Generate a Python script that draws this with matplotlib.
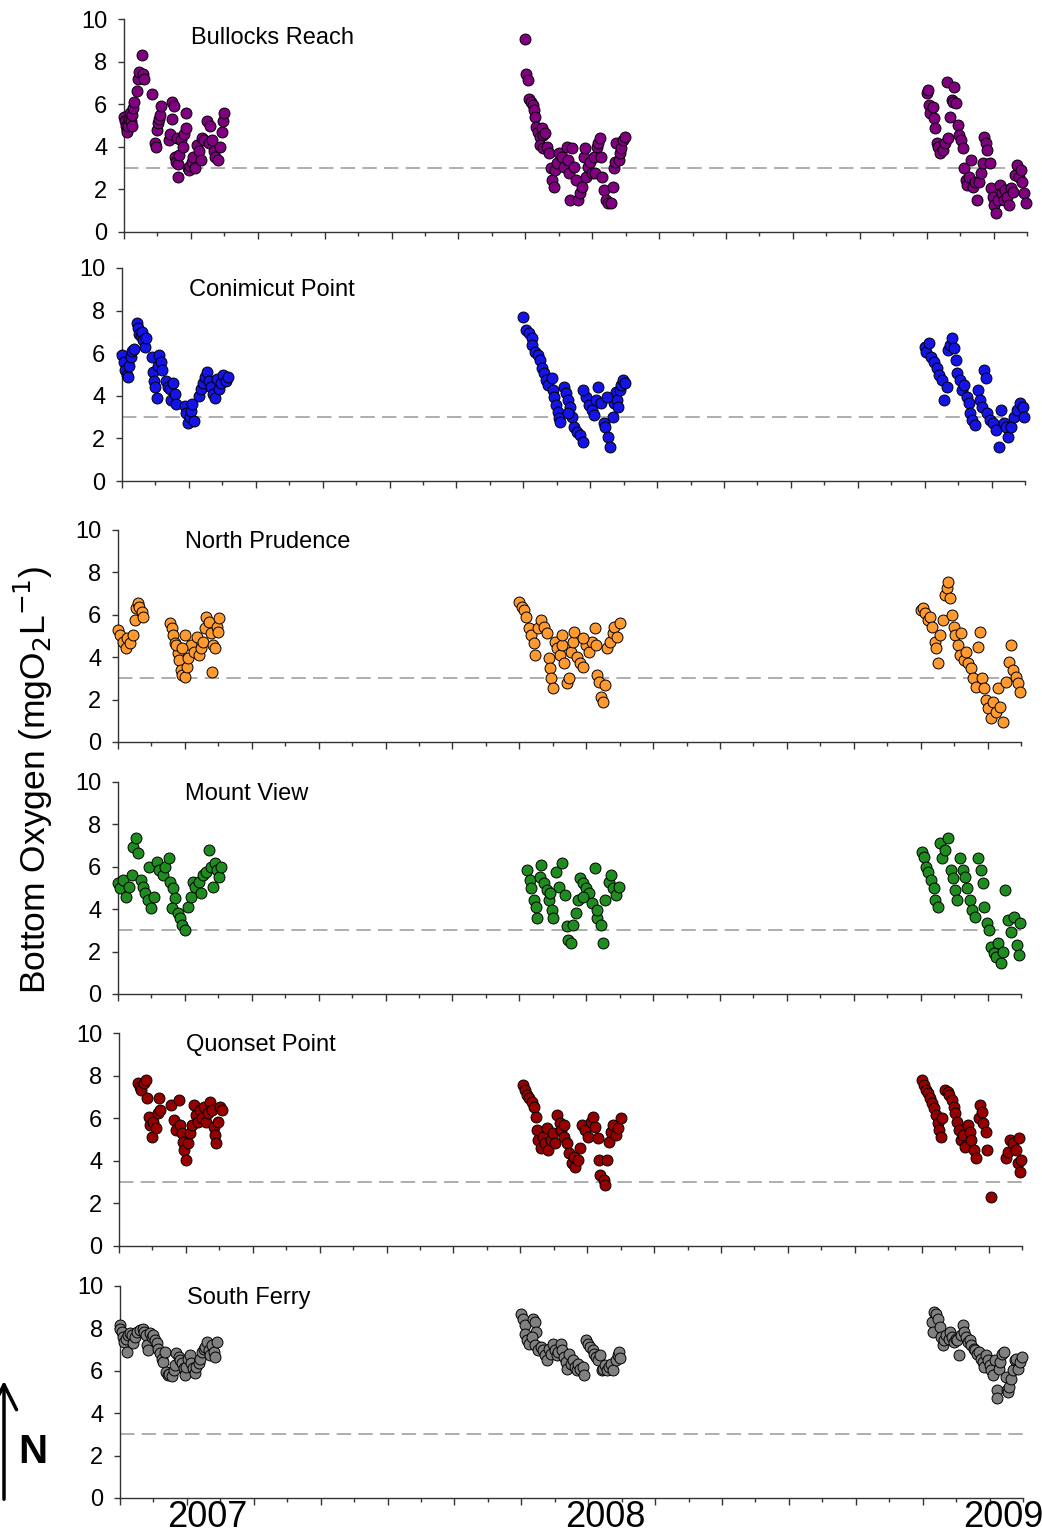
import numpy as np
import matplotlib
matplotlib.use("Agg")
import matplotlib.pyplot as plt
import matplotlib.transforms as mtransforms

plt.rcParams['font.family'] = ['Liberation Sans', 'DejaVu Sans']

# x = months since June 2007 (0 = start of 2007 season), y = bottom oxygen (mg/L)
stations = ['Bullocks Reach', 'Conimicut Point', 'North Prudence',
            'Mount View', 'Quonset Point', 'South Ferry']
colors = ['#800080', '#1414e6', '#ff9a30', '#1e8c1e', '#960000', '#808080']
years = ['2007', '2008', '2009']
year_pos = [2.6, 14.5, 26.4]
hypoxia_level = 3

br_x = [0.00, 0.03, 0.05, 0.08, 0.10, 0.13, 0.15, 0.18, 0.20, 0.23, 0.25, 0.28, 0.30, 0.38, 0.42,
        0.46, 0.53, 0.57, 0.61, 0.85, 0.92, 0.96, 1.00, 1.03, 1.06, 1.09, 1.12, 1.35, 1.38, 1.43,
        1.45, 1.50, 1.51, 1.55, 1.58, 1.61, 1.62, 1.65, 1.70, 1.75, 1.80, 1.84, 1.86, 1.90, 1.95,
        1.98, 2.02, 2.06, 2.13, 2.19, 2.25, 2.31, 2.33, 2.40, 2.48, 2.55, 2.58, 2.63, 2.68, 2.73,
        2.80, 2.88, 2.93, 2.96, 3.00,
        12.00, 12.03, 12.09, 12.11, 12.18, 12.23, 12.26, 12.29, 12.32, 12.37, 12.43, 12.49, 12.54,
        12.60, 12.43, 12.54, 12.66, 12.71, 12.77, 12.79, 12.86, 12.88, 12.94, 13.02, 13.11, 13.17,
        13.25, 13.28, 13.31, 13.34, 13.39, 13.45, 13.51, 13.57, 13.62, 13.68, 13.74, 13.77, 13.81,
        13.88, 13.93, 13.99, 14.04, 14.08, 14.13, 14.16, 14.22, 14.27, 14.30, 14.36, 14.41, 14.47,
        14.56, 14.61, 14.65, 14.67, 14.72, 14.79, 14.83, 14.87, 14.92, 14.98,
        24.00, 24.03, 24.07, 24.11, 24.18, 24.22, 24.26, 24.30, 24.34, 24.41, 24.49, 24.55, 24.61,
        24.64, 24.69, 24.75, 24.80, 24.83, 24.89, 24.94, 24.98, 25.02, 25.09, 25.13, 25.18, 25.22,
        25.28, 25.33, 25.39, 25.45, 25.50, 25.56, 25.62, 25.67, 25.70, 25.77, 25.81, 25.88, 25.92,
        25.97, 26.01, 26.07, 26.12, 26.18, 26.24, 26.30, 26.35, 26.41, 26.46, 26.52, 26.58, 26.63,
        26.69, 26.75, 26.81, 26.86, 26.92, 26.97]
br_y = [5.4, 5.2, 5.0, 4.8, 4.7, 5.0, 5.3, 5.6, 5.2, 5.0, 5.5, 5.8, 6.1, 6.6, 7.2,
        7.5, 8.3, 7.4, 7.2, 6.5, 4.2, 4.0, 4.8, 5.1, 5.3, 5.5, 5.9, 4.3, 4.6, 5.3,
        6.1, 5.9, 3.5, 3.3, 4.4, 2.6, 3.2, 3.6, 4.3, 4.0, 4.6, 4.9, 5.6, 3.0, 2.9,
        3.1, 3.3, 3.5, 3.0, 4.1, 3.8, 3.4, 4.4, 4.3, 5.2, 4.2, 5.0, 4.3, 3.8, 3.5,
        3.4, 4.0, 4.7, 5.2, 5.6,
        9.06, 7.42, 7.13, 6.23, 6.12, 5.96, 5.73, 5.41, 4.94, 4.71, 4.47, 4.87, 4.55,
        4.63, 4.08, 3.93, 4.00, 3.69, 2.99, 2.44, 2.13, 2.91, 3.22, 3.69, 3.53, 3.07,
        4.00, 3.38, 2.75, 1.50, 3.93, 3.07, 2.44, 1.50, 1.81, 2.13, 3.53, 3.93, 2.60,
        3.07, 3.30, 2.75, 3.53, 2.75, 4.00, 4.16, 4.40, 3.53, 2.60, 1.97, 1.50, 1.34,
        1.34, 2.13, 2.99, 3.30, 4.16, 3.38, 3.69, 3.93, 4.32, 4.47,
        6.51, 6.66, 5.96, 5.57, 5.88, 5.33, 4.87, 4.16, 4.00, 3.69, 3.85, 4.16, 7.06,
        4.40, 5.41, 6.20, 6.12, 6.79, 6.04, 5.02, 4.55, 4.32, 3.93, 2.99, 2.44, 2.21,
        2.60, 3.38, 2.13, 2.36, 1.50, 2.36, 2.75, 3.22, 4.47, 4.16, 3.85, 3.22, 2.05,
        1.66, 1.27, 0.87, 1.50, 2.21, 1.81, 1.50, 1.97, 1.66, 1.27, 2.05, 1.89, 2.67,
        3.14, 2.60, 2.91, 2.36, 1.81, 1.34]

cp_x = [0.00, 0.05, 0.10, 0.14, 0.18, 0.22, 0.27, 0.31, 0.35, 0.44, 0.48, 0.52, 0.56, 0.60, 0.64,
        0.68, 0.72, 0.89, 0.92, 0.96, 1.00, 1.04, 1.08, 1.12, 1.16, 1.20, 1.33, 1.38, 1.43, 1.48,
        1.53, 1.58, 1.62, 1.87, 1.92, 1.97, 2.02, 2.06, 2.10, 2.14, 2.31, 2.36, 2.42, 2.48, 2.54,
        2.60, 2.66, 2.72, 2.78, 2.84, 2.90, 2.96, 3.02, 3.10, 3.18,
        12.00, 12.09, 12.18, 12.27, 12.27, 12.36, 12.44, 12.50, 12.57, 12.62, 12.68, 12.75, 12.85,
        12.89, 12.93, 12.98, 13.03, 13.07, 13.10, 13.21, 13.28, 13.33, 13.39, 13.46, 13.51, 13.60,
        13.69, 13.78, 13.87, 13.96, 14.05, 14.10, 14.17, 14.23, 14.32, 14.40, 14.45, 14.52, 14.58,
        14.67, 14.70, 14.76, 14.81, 14.88, 14.93, 14.98, 15.05, 13.33, 13.78, 14.49, 14.84,
        24.00, 24.05, 24.12, 24.18, 24.27, 24.36, 24.44, 24.53, 24.59, 24.66, 24.71, 24.76, 24.83,
        24.88, 24.94, 24.98, 25.07, 25.12, 25.19, 25.26, 25.33, 25.37, 25.42, 25.51, 25.60, 25.65,
        25.72, 25.78, 25.83, 25.87, 25.95, 26.04, 26.13, 26.22, 26.29, 26.36, 26.43, 26.50, 26.58,
        26.66, 26.75, 26.84, 26.93, 26.98]
cp_y = [5.9, 5.6, 5.2, 5.0, 4.9, 5.4, 5.8, 6.1, 6.2, 7.4, 7.2, 6.9, 6.8, 7.0, 6.6,
        6.3, 6.7, 5.8, 5.1, 4.7, 4.4, 3.9, 5.4, 5.9, 5.6, 5.2, 4.7, 4.4, 4.3, 3.8,
        4.6, 4.1, 3.6, 3.5, 3.2, 2.7, 3.0, 3.3, 3.6, 2.8, 4.0, 4.3, 4.6, 4.9, 5.1,
        4.7, 4.4, 4.1, 3.9, 4.8, 4.3, 4.6, 5.0, 4.7, 4.9,
        7.71, 7.09, 6.93, 6.70, 6.39, 6.07, 5.92, 5.68, 5.29, 5.05, 4.74, 4.51, 4.82,
        4.27, 3.96, 3.57, 3.26, 2.94, 2.79, 4.43, 4.12, 3.80, 3.49, 3.02, 2.55, 2.32,
        2.16, 1.85, 3.96, 3.57, 3.33, 3.10, 3.80, 4.43, 3.65, 2.71, 2.55, 2.08, 1.61,
        3.02, 3.65, 4.20, 3.80, 4.27, 4.51, 4.74, 4.59, 3.18, 4.27, 3.96, 3.49,
        6.31, 6.07, 6.46, 5.84, 5.60, 5.29, 4.98, 4.74, 3.80, 4.43, 6.15, 6.38, 6.70,
        6.23, 5.68, 5.05, 4.74, 4.27, 4.51, 3.96, 3.65, 3.18, 2.86, 2.63, 4.27, 3.80,
        3.49, 5.21, 4.82, 3.18, 2.86, 2.71, 2.39, 1.61, 3.33, 2.71, 2.55, 2.08, 2.55,
        3.02, 3.33, 3.65, 3.49, 3.02]

np_x = [0.00, 0.05, 0.14, 0.23, 0.28, 0.36, 0.46, 0.50, 0.53, 0.59, 0.64, 0.71, 0.76,
        1.56, 1.60, 1.65, 1.70, 1.78, 1.83, 1.88, 1.92, 2.01, 2.06, 2.10, 2.01, 2.19, 2.27,
        2.36, 2.42, 2.49, 2.54, 2.59, 2.63, 2.72, 2.77, 2.81, 2.84, 2.90, 2.95, 3.02, 2.98,
        1.74, 1.92,
        12.00, 12.07, 12.14, 12.21, 12.30, 12.36, 12.43, 12.48, 12.57, 12.66, 12.75, 12.84, 12.89,
        12.93, 12.96, 13.01, 13.07, 13.14, 13.21, 13.28, 13.35, 13.42, 13.49, 13.55, 13.60, 13.63,
        13.72, 13.80, 13.89, 13.98, 14.07, 14.16, 14.25, 14.30, 14.33, 14.39, 14.44, 14.50, 14.55,
        14.61, 14.70, 14.79, 14.84, 14.91, 15.02, 13.28, 13.89,
        24.00, 24.07, 24.14, 24.21, 24.28, 24.35, 24.43, 24.46, 24.53, 24.59, 24.66, 24.73, 24.78,
        24.83, 24.87, 24.94, 25.01, 25.04, 25.11, 25.18, 25.22, 25.29, 25.36, 25.43, 25.50, 25.57,
        25.64, 25.71, 25.78, 25.83, 25.89, 25.95, 26.02, 26.10, 26.17, 26.24, 26.31, 26.38, 26.45,
        26.54, 26.63, 26.70, 26.77, 26.84, 26.91, 26.98]
np_y = [5.28, 5.04, 4.73, 4.42, 4.89, 4.65, 5.04, 5.75, 6.30, 6.54, 6.38, 6.15, 5.91,
        5.60, 5.36, 5.04, 4.65, 4.18, 3.87, 3.39, 3.16, 3.08, 3.55, 3.94, 5.04, 4.57, 4.26,
        4.97, 4.10, 4.42, 4.73, 5.36, 5.91, 5.67, 5.12, 3.32, 4.57, 4.42, 5.44, 5.83, 5.20,
        4.57, 4.42,
        6.62, 6.38, 6.22, 5.91, 5.36, 5.04, 4.65, 4.10, 5.36, 5.75, 5.44, 5.12, 3.94,
        3.47, 3.00, 2.53, 4.73, 4.42, 4.10, 4.57, 3.71, 2.77, 3.00, 4.26, 4.73, 5.20,
        4.02, 3.71, 3.55, 4.57, 4.26, 4.73, 5.36, 4.57, 3.16, 2.84, 2.14, 1.90, 2.69,
        4.42, 4.73, 5.12, 5.44, 4.97, 5.60, 5.04, 4.89,
        6.22, 6.30, 6.07, 5.75, 5.91, 5.44, 4.73, 4.42, 3.71, 5.04, 5.75, 6.93, 7.25,
        7.56, 6.78, 5.99, 5.44, 5.04, 4.57, 4.10, 5.12, 3.87, 4.26, 3.71, 3.47, 3.00,
        2.61, 4.49, 5.20, 3.00, 2.53, 1.98, 1.59, 1.11, 1.90, 1.43, 2.53, 1.67, 0.96,
        2.84, 3.79, 4.57, 3.39, 3.08, 2.77, 2.37]

mv_x = [0.00, 0.05, 0.14, 0.23, 0.32, 0.41, 0.46, 0.53, 0.59, 0.68, 0.76, 0.82, 0.89, 0.99,
        0.94, 1.07, 1.17, 1.24, 1.35, 1.42, 1.51, 1.56, 1.63, 1.70, 1.60, 1.78, 1.85, 1.92, 2.01,
        2.10, 2.19, 2.24, 2.31, 2.42, 2.49, 2.54, 2.63, 2.72, 2.77, 2.84, 2.90, 2.95, 3.02, 3.07,
        12.22, 12.31, 12.36, 12.43, 12.49, 12.54, 12.61, 12.66, 12.75, 12.84, 12.89, 12.97, 13.02,
        13.11, 13.20, 13.29, 13.38, 13.43, 13.46, 13.55, 13.61, 13.68, 13.75, 13.82, 13.91, 13.99,
        14.09, 14.17, 14.26, 14.31, 14.33, 14.44, 14.49, 14.56, 14.67, 14.74, 14.81, 14.88, 14.97,
        12.93, 13.91,
        24.03, 24.09, 24.16, 24.23, 24.30, 24.39, 24.44, 24.51, 24.58, 24.65, 24.74, 24.83, 24.90,
        24.97, 25.04, 25.10, 25.19, 25.26, 25.33, 25.40, 25.47, 25.54, 25.63, 25.72, 25.81, 25.86,
        25.90, 25.97, 26.04, 26.11, 26.18, 26.25, 26.32, 26.39, 26.47, 26.52, 26.61, 26.70, 26.79,
        26.87, 26.93, 26.96]
mv_y = [5.22, 4.98, 5.38, 4.59, 5.06, 5.61, 6.95, 7.34, 6.63, 5.38, 5.06, 4.75, 4.43, 4.04,
        6.00, 4.59, 6.24, 5.85, 5.61, 6.00, 6.40, 5.30, 4.98, 4.51, 4.04, 3.80, 3.57, 3.25, 3.02,
        4.12, 4.59, 5.30, 5.06, 5.30, 4.75, 5.61, 5.77, 6.79, 6.00, 5.06, 6.16, 5.85, 5.53, 6.00,
        5.85, 5.38, 4.98, 4.43, 4.12, 3.57, 5.53, 6.08, 5.22, 4.90, 4.43, 3.96, 3.57,
        5.77, 5.06, 6.16, 4.67, 3.21, 2.55, 2.39, 3.25, 3.80, 4.43, 5.46, 5.22, 4.98,
        4.75, 4.28, 5.93, 3.57, 3.96, 3.25, 2.39, 4.43, 5.30, 5.61, 4.98, 4.67, 5.06,
        4.75, 4.59,
        6.71, 6.48, 6.00, 5.77, 5.38, 4.98, 4.43, 4.12, 7.11, 6.40, 6.79, 7.34, 5.85,
        5.46, 4.90, 4.43, 6.40, 5.85, 5.53, 4.98, 4.43, 3.96, 3.65, 6.40, 5.85, 5.22,
        4.12, 3.33, 3.02, 2.23, 1.92, 1.76, 2.39, 1.45, 1.99, 4.90, 3.49, 2.94, 3.65,
        2.31, 1.84, 3.33]

qp_x = [0.57, 0.62, 0.67, 0.75, 0.80, 0.85, 0.89, 0.92, 0.98, 1.03, 1.10, 1.17, 1.24, 1.21,
        1.56, 1.63, 1.69, 1.78, 1.81, 1.87, 1.92, 1.95, 1.99, 2.06, 2.13, 2.19, 2.24, 2.31, 2.36,
        2.42, 2.49, 2.54, 2.61, 2.66, 2.72, 2.77, 2.84, 2.88, 2.91, 2.97, 3.02, 3.07,
        12.08, 12.13, 12.20, 12.26, 12.34, 12.40, 12.47, 12.50, 12.54, 12.61, 12.67, 12.74, 12.79,
        12.84, 12.91, 12.97, 13.05, 13.11, 13.18, 13.23, 13.32, 13.41, 13.46, 13.53, 13.59, 13.64,
        13.71, 13.77, 13.85, 13.94, 14.03, 14.12, 14.17, 14.24, 14.31, 14.35, 14.39, 14.49, 14.53,
        14.60, 14.65, 14.71, 14.78, 14.85, 14.92, 15.01, 13.32,
        24.01, 24.07, 24.12, 24.19, 24.25, 24.32, 24.37, 24.42, 24.48, 24.51, 24.57, 24.62, 24.69,
        24.78, 24.83, 24.90, 24.96, 25.01, 25.05, 25.12, 25.17, 25.24, 25.29, 25.38, 25.44, 25.49,
        25.56, 25.62, 25.71, 25.75, 25.79, 25.84, 25.91, 25.96, 26.08, 26.52, 26.58, 26.65, 26.72,
        26.81, 26.88, 26.93, 26.98, 26.90]
qp_y = [7.67, 7.48, 7.32, 7.63, 7.79, 6.93, 6.07, 5.68, 5.13, 5.83, 5.52, 6.23, 6.38, 6.93,
        6.62, 5.91, 5.44, 6.85, 5.68, 5.29, 4.90, 4.50, 4.04, 4.82, 5.29, 5.68, 6.62, 6.15, 5.83,
        6.38, 6.00, 6.54, 5.83, 6.23, 6.77, 6.38, 5.60, 5.21, 4.82, 5.83, 6.54, 6.38,
        7.56, 7.32, 7.09, 6.93, 6.77, 6.54, 6.07, 5.44, 4.98, 4.58, 5.13, 4.82, 5.52,
        4.50, 4.98, 5.29, 4.82, 6.15, 5.76, 5.44, 5.13, 4.82, 4.35, 3.88, 4.19, 3.72,
        4.04, 4.58, 5.68, 5.44, 5.13, 5.83, 6.07, 5.60, 5.05, 4.04, 3.33, 3.10, 2.86,
        4.04, 4.90, 5.37, 5.68, 5.21, 5.52, 6.00, 5.68,
        7.79, 7.56, 7.32, 7.16, 6.93, 6.70, 6.46, 6.15, 5.76, 5.44, 5.13, 6.00, 7.32,
        7.24, 7.09, 6.85, 6.54, 6.23, 5.83, 5.44, 4.98, 5.21, 4.66, 5.68, 5.37, 4.98,
        4.50, 4.11, 6.00, 6.62, 6.30, 5.76, 5.37, 4.50, 2.31, 4.11, 4.42, 4.98, 4.82,
        4.50, 3.88, 3.49, 4.04, 5.05]

sf_x = [0.00, 0.00, 0.05, 0.08, 0.12, 0.18, 0.22, 0.25, 0.30, 0.35, 0.40, 0.45, 0.52, 0.60,
        0.68, 0.72, 0.77, 0.80, 0.85, 0.90, 0.95, 1.00, 1.05, 1.10, 1.15, 1.20, 1.25, 1.30, 1.35,
        1.38, 1.43, 1.48, 1.55, 1.60, 1.65, 1.68, 1.75, 1.80, 1.85, 1.90, 1.93, 1.98, 2.02, 2.08,
        2.12, 2.18, 2.23, 2.28, 2.35, 2.40, 2.45, 2.50, 2.55, 2.60, 2.65, 2.70, 2.75, 2.80, 2.85,
        2.90,
        11.99, 12.04, 12.10, 12.12, 12.18, 12.22, 12.36, 12.42, 12.44, 12.31, 12.42, 12.50, 12.58,
        12.65, 12.72, 12.76, 12.84, 12.90, 12.95, 13.01, 13.06, 13.11, 13.19, 13.23, 13.27, 13.33,
        13.38, 13.43, 13.49, 13.54, 13.59, 13.65, 13.70, 13.75, 13.83, 13.88, 13.94, 13.99, 14.05,
        14.13, 14.18, 14.24, 14.29, 14.35, 14.40, 14.45, 14.50, 14.56, 14.61, 14.68, 14.74, 14.82,
        14.88, 14.93, 14.96,
        24.29, 24.31, 24.34, 24.40, 24.45, 24.51, 24.54, 24.60, 24.64, 24.71, 24.78, 24.83, 24.89,
        24.93, 24.99, 25.04, 25.10, 25.14, 25.20, 25.25, 25.30, 25.36, 25.41, 25.46, 25.52, 25.57,
        25.62, 25.68, 25.73, 25.79, 25.84, 25.89, 25.95, 26.00, 26.05, 26.11, 26.16, 26.21, 26.23,
        26.27, 26.32, 26.37, 26.43, 26.48, 26.51, 26.56, 26.59, 26.64, 26.69, 26.75, 26.80, 26.85,
        26.91, 26.96]
sf_y = [8.15, 7.99, 7.84, 7.60, 7.37, 7.52, 6.90, 7.68, 7.76, 7.68, 7.29, 7.60, 7.84, 7.92,
        7.95, 7.84, 7.68, 7.21, 6.97, 7.76, 7.60, 7.68, 7.45, 7.29, 7.05, 6.82, 6.58, 6.43, 6.90,
        5.96, 5.80, 5.85, 5.75, 6.03, 6.27, 6.82, 6.66, 6.50, 6.35, 6.11, 5.80, 6.19, 6.58, 6.74,
        6.35, 6.11, 5.88, 6.19, 6.35, 6.58, 6.90, 7.05, 7.13, 7.37, 6.97, 6.74, 7.21, 6.90, 6.66,
        7.37,
        8.68, 8.45, 8.14, 7.75, 7.43, 7.28, 8.45, 8.29, 7.82, 7.59, 7.20, 6.96, 7.12,
        6.96, 6.73, 6.49, 7.04, 6.81, 7.28, 6.96, 6.73, 6.89, 7.28, 6.96, 6.65, 6.42,
        6.10, 6.81, 6.34, 6.49, 6.18, 6.03, 6.34, 6.10, 6.18, 5.79, 7.43, 7.28, 7.12,
        6.96, 6.81, 6.65, 6.49, 6.73, 6.03, 6.10, 6.26, 6.03, 6.18, 6.34, 6.03, 6.49,
        6.73, 6.89, 6.62,
        8.29, 7.82, 8.76, 8.68, 8.45, 8.06, 7.59, 7.20, 7.43, 7.67, 7.51, 7.82, 7.59,
        7.35, 7.51, 7.43, 6.73, 7.67, 8.14, 7.82, 7.59, 7.35, 7.43, 7.20, 7.04, 6.96,
        6.81, 6.89, 6.57, 6.42, 6.18, 6.73, 6.49, 6.26, 6.03, 5.79, 6.49, 5.09, 4.70,
        6.10, 6.42, 6.81, 6.89, 5.71, 5.09, 5.01, 5.24, 5.63, 6.03, 6.49, 6.57, 6.10,
        6.42, 6.65]

all_x = [br_x, cp_x, np_x, mv_x, qp_x, sf_x]
all_y = [br_y, cp_y, np_y, mv_y, qp_y, sf_y]

# panel placement in pixels: (left, top, bottom) of each axes box
W, H = 1042, 1533
panel_px = [(124, 19, 232), (122, 268, 481), (118, 530, 742),
            (118, 782, 994), (119, 1033, 1246), (120, 1286, 1498)]
panel_w = 903
label_y = [0.91, 0.897, 0.943, 0.943, 0.944, 0.943]

fig = plt.figure(figsize=(W / 100, H / 100), dpi=100)

axes = []
for i, (left, top, bot) in enumerate(panel_px):
    ax = fig.add_axes([left / W, 1 - bot / H, panel_w / W, (bot - top) / H])
    axes.append(ax)

    ax.axhline(hypoxia_level, color='#a8a8a8', lw=1.3, ls=(0, (8, 4)), zorder=1)
    ax.scatter(all_x[i], all_y[i], s=62, c=colors[i], edgecolors='black',
               linewidths=0.7, zorder=3, clip_on=False)

    ax.set_xlim(0, 27)
    ax.set_ylim(0, 10)
    ax.set_yticks(np.arange(0, 11, 2))
    ax.set_xticks(np.arange(0, 28, 2))
    ax.set_xticks(np.arange(1, 28, 2), minor=True)
    ax.set_xticklabels([])

    for side in ['top', 'right']:
        ax.spines[side].set_visible(False)
    for side in ['left', 'bottom']:
        ax.spines[side].set_color('#333333')
        ax.spines[side].set_linewidth(1.0)

    ax.tick_params(axis='y', direction='out', length=4, width=1, colors='#333333',
                   labelsize=17, labelcolor='black', pad=8)
    ax.tick_params(axis='x', which='major', direction='out', length=5, width=1,
                   colors='#333333')
    ax.tick_params(axis='x', which='minor', direction='out', length=3, width=1,
                   colors='#333333')

    ax.text(0.074, label_y[i], stations[i], transform=ax.transAxes,
            fontsize=17, va='center', ha='left')

# year labels under the last panel
bottom_ax = axes[-1]
trans = mtransforms.blended_transform_factory(bottom_ax.transData, bottom_ax.transAxes)
for pos, yr in zip(year_pos, years):
    bottom_ax.text(pos, -0.09, yr, transform=trans, fontsize=26,
                   ha='center', va='center', clip_on=False)

fig.text(33 / W, 1 - 780 / H, 'Bottom Oxygen (mgO$_2$L$^{-1}$)',
         rotation=90, fontsize=25.5, ha='center', va='center')

# north arrow
fig.add_artist(matplotlib.patches.FancyArrowPatch(
    (4 / W, 1 - 1502 / H), (4 / W, 1 - 1378 / H), transform=fig.transFigure,
    arrowstyle='->,head_length=0.9,head_width=0.45', lw=2.5, color='black',
    mutation_scale=20))
fig.text(33 / W, 1 - 1452 / H, 'N', fontsize=29, fontweight='bold',
         ha='center', va='center')

fig.savefig('out.png', dpi=100)
